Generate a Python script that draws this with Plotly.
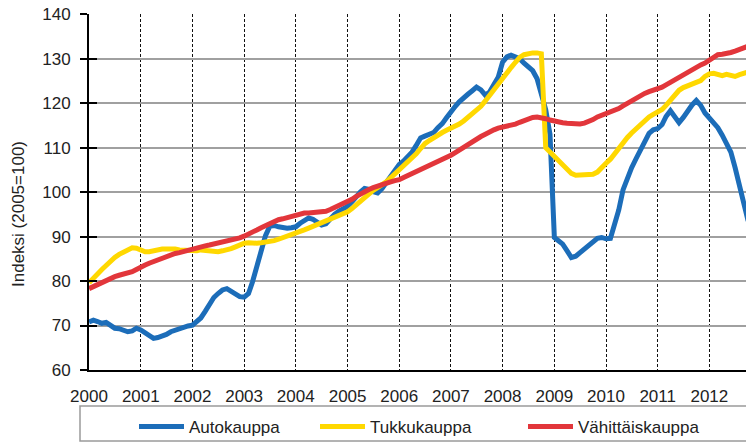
import pandas as pd
import plotly.graph_objects as go

# Monthly index values, 2000-01 .. 2012-10 (2005=100)
autokauppa = [
    70.8, 71.2, 70.9, 70.5, 70.7, 70.2, 69.4, 69.3, 69.0, 68.6, 68.8, 69.4,
    69.0, 68.3, 67.6, 67.1, 67.3, 67.6, 68.0, 68.6, 69.0, 69.3, 69.6, 69.9,
    70.1, 70.8, 71.7, 73.2, 74.8, 76.3, 77.2, 78.0, 78.3, 77.6, 76.9, 76.5,
    76.4, 77.2, 79.8, 83.0, 86.5, 90.2, 92.3, 92.5, 92.2, 92.0, 91.9, 92.0,
    92.2, 93.0, 93.6, 94.2, 93.9, 93.2, 92.6, 92.9, 94.2, 95.0, 95.7, 96.3,
    96.8, 97.8, 99.0, 100.0, 100.8, 100.6, 100.1, 99.8, 100.8, 102.2, 103.6, 105.0,
    106.2, 107.0, 108.0, 109.0, 110.5, 112.2, 112.6, 113.0, 113.4, 114.5, 115.4, 116.7,
    118.2, 119.3, 120.3, 121.3, 122.0, 122.8, 123.6, 123.0, 121.8, 122.5, 124.0, 125.8,
    129.2, 130.4, 130.8, 130.5, 130.0, 129.0, 128.3, 127.3, 125.5, 122.0, 118.5, 113.0,
    89.8, 89.0, 88.3, 86.8, 85.3, 85.6, 86.4, 87.2, 88.0, 88.8, 89.6, 89.8,
    89.5, 89.6, 92.5, 96.0, 100.5, 103.3, 105.5, 107.5, 109.5, 111.5, 113.2, 114.0,
    114.3, 115.2, 117.0, 118.3, 117.0, 115.6, 116.8, 118.4, 119.6, 120.6, 119.5, 117.8,
    116.6, 115.8, 114.5, 112.8, 111.0, 109.0, 105.5, 101.2, 97.2, 93.5,
]
tukkukauppa = [
    79.6, 80.5, 81.6, 82.6, 83.5, 84.5, 85.3, 86.0, 86.6, 87.2, 87.5, 87.4,
    87.0, 86.6, 86.6, 86.9, 87.0, 87.2, 87.2, 87.3, 87.2, 87.0, 86.9, 86.8,
    86.7, 86.8, 87.0, 86.9, 86.6, 86.5, 86.6, 86.8, 87.0, 87.3, 87.7, 88.2,
    88.5, 88.6, 88.5, 88.5, 88.6, 88.7, 88.8, 89.1, 89.4, 89.7, 90.1, 90.6,
    90.8, 91.2, 91.5, 91.9, 92.3, 92.6, 93.0, 93.5, 94.0, 94.4, 94.8, 95.2,
    95.6, 96.3, 97.1, 97.9, 98.8, 99.6, 100.4, 101.0, 101.6, 102.3, 103.2, 104.1,
    105.0, 105.8, 106.6, 107.4, 108.6, 109.8, 110.9, 111.6, 112.3, 112.9, 113.4, 113.9,
    114.3, 114.7, 115.3, 116.0, 116.8, 117.6, 118.4, 119.3, 120.5, 121.8, 123.0, 124.3,
    125.6, 126.9, 128.0, 129.2, 130.3, 130.9, 131.2, 131.3, 131.3, 131.1, 110.0, 109.0,
    108.2, 107.3, 106.2, 105.2, 104.2, 103.8, 103.8, 103.8, 103.8, 104.0, 104.5, 105.6,
    106.5, 107.4, 108.6, 110.0, 111.2, 112.3, 113.3, 114.3, 115.3, 116.2, 116.9, 117.5,
    118.0, 118.6, 119.5, 120.8, 122.0, 122.9, 123.5, 123.9, 124.3, 124.7, 125.1, 126.0,
    126.6, 126.7, 126.4, 126.2, 126.5, 126.2, 126.0, 126.4, 126.8, 127.0,
]
vahittaiskauppa = [
    78.3, 78.8, 79.3, 79.8, 80.3, 80.6, 81.0, 81.3, 81.5, 81.8, 82.1, 82.6,
    83.2, 83.6, 84.0, 84.4, 84.8, 85.2, 85.6, 85.9, 86.2, 86.4, 86.7, 87.0,
    87.2, 87.4, 87.6, 87.9, 88.1, 88.3, 88.6, 88.8, 89.0, 89.2, 89.4, 89.7,
    90.1, 90.5, 91.0, 91.5, 92.0, 92.5, 93.1, 93.5, 93.8, 94.0, 94.3, 94.6,
    94.9, 95.2, 95.3, 95.3, 95.4, 95.5, 95.5, 95.7, 96.1, 96.5, 96.9, 97.4,
    97.9, 98.4, 99.0, 99.6, 100.1, 100.6, 101.0, 101.4, 101.7, 102.0, 102.3, 102.6,
    102.8, 103.3, 103.7, 104.2, 104.7, 105.1, 105.6, 106.1, 106.6, 107.0, 107.4, 107.8,
    108.3, 108.9, 109.5, 110.1, 110.7, 111.3, 111.9, 112.5, 113.0, 113.6, 114.0, 114.4,
    114.6, 114.8, 115.0, 115.3, 115.7, 116.1, 116.5, 116.8, 116.9, 116.8, 116.5, 116.2,
    115.9, 115.7, 115.6, 115.5, 115.4, 115.3, 115.3, 115.5, 115.8, 116.3, 116.9, 117.3,
    117.6, 117.9, 118.3, 118.8, 119.4, 120.0, 120.6, 121.2, 121.8, 122.2, 122.6, 122.9,
    123.2, 123.6, 124.1, 124.7, 125.3, 125.8, 126.5, 127.1, 127.6, 128.1, 128.6, 129.0,
    129.6, 130.4, 130.9, 131.0, 131.1, 131.4, 131.7, 132.0, 132.4, 132.8,
]
series_names = ["Autokauppa", "Tukkukauppa", "Vähittäiskauppa"]
series_colors = ["#1c6db9", "#ffd800", "#e2363b"]
y_title = "Indeksi (2005=100)"

months = pd.date_range(start="2000-01-01", periods=len(autokauppa), freq="MS")

FONT = "Liberation Sans, Arial, sans-serif"
FIG_W, FIG_H = 746, 445
# plot area in page pixels (page body margin removed below)
PLOT_L, PLOT_R, PLOT_T, PLOT_B = 89, 746, 14, 370
PW, PH = PLOT_R - PLOT_L, PLOT_B - PLOT_T
Y_MIN, Y_MAX = 60, 140.05


def px_x(px):
    return (px - PLOT_L) / PW


def px_y(py):
    return (PLOT_B - py) / PH


legend_ids = ["legend", "legend2", "legend3"]
legend_px = [134, 315, 523]

fig = go.Figure()
for name, vals, col, lid in zip(series_names, [autokauppa, tukkukauppa, vahittaiskauppa],
                                series_colors, legend_ids):
    fig.add_trace(go.Scatter(x=months, y=vals, mode="lines", name=name, legend=lid,
                             line=dict(color=col, width=5)))

# invisible trace on yaxis2 to show inward tick part
fig.add_trace(go.Scatter(x=months[:1], y=[None], yaxis="y2", showlegend=False,
                         hoverinfo="skip"))

legend_common = dict(orientation="h", xanchor="left", y=px_y(427), yanchor="middle",
                     font=dict(size=17, color="#222222"), bgcolor="rgba(0,0,0,0)",
                     borderwidth=0, itemwidth=45)
layout_legends = {lid: dict(legend_common, x=px_x(p)) for lid, p in zip(legend_ids, legend_px)}

fig.update_layout(
    width=FIG_W, height=FIG_H,
    margin=dict(l=PLOT_L, r=FIG_W - PLOT_R, t=PLOT_T, b=FIG_H - PLOT_B, autoexpand=False),
    paper_bgcolor="white", plot_bgcolor="white",
    font=dict(family=FONT, size=17, color="#222222"),
    showlegend=True,
    xaxis=dict(
        type="date", range=["2000-01-01", "2012-09-16"],
        tickmode="linear", tick0="2000-01-01", dtick="M12", tickformat="%Y",
        showgrid=True, gridcolor="#111111", gridwidth=1, griddash="3px,2px",
        showline=True, linecolor="#000000", linewidth=2,
        ticks="", ticklabelstandoff=10, zeroline=False,
        tickfont=dict(size=17, color="#222222"),
    ),
    yaxis=dict(
        range=[Y_MIN, Y_MAX], tickmode="linear", tick0=60, dtick=10,
        showgrid=True, gridcolor="#a0a0a0", gridwidth=1.5,
        showline=True, linecolor="#000000", linewidth=2,
        ticks="outside", ticklen=7, tickwidth=2, tickcolor="#000000",
        ticklabelstandoff=6, ticklabeloverflow="allow", zeroline=False,
        tickfont=dict(size=17, color="#222222"),
    ),
    yaxis2=dict(
        overlaying="y", side="left", range=[Y_MIN, Y_MAX], tickmode="linear", tick0=60,
        dtick=10, showgrid=False, showline=False, showticklabels=False, zeroline=False,
        ticks="inside", ticklen=8, tickwidth=2, tickcolor="#000000",
    ),
    annotations=[dict(
        text=y_title, textangle=-90, xref="paper", yref="paper",
        x=px_x(18), y=px_y(214), xanchor="center", yanchor="middle", showarrow=False,
        font=dict(size=17, color="#222222"),
    )],
    shapes=[dict(type="rect", xref="paper", yref="paper",
                 x0=px_x(80), x1=px_x(752), y0=px_y(441), y1=px_y(406),
                 line=dict(color="#9a9a9a", width=1.5), fillcolor="rgba(0,0,0,0)",
                 layer="below")],
    **layout_legends,
)

fig.write_html(
    "out.html",
    config={"displayModeBar": False},
    post_script="document.body.style.margin='0';document.body.style.overflow='hidden';",
)
